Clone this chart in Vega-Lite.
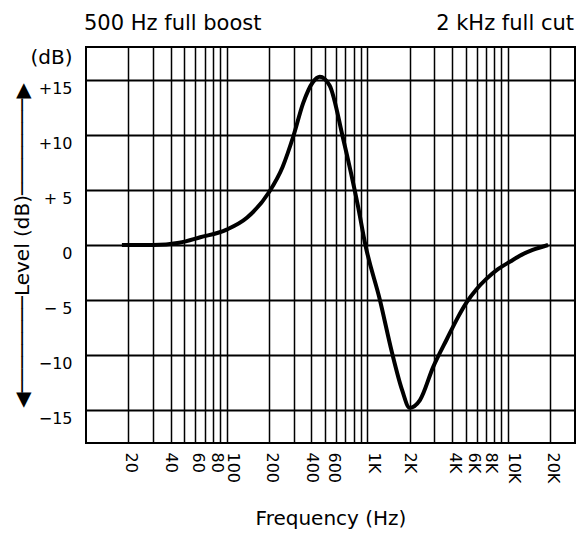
{
  "$schema": "https://vega.github.io/schema/vega-lite/v6.json",
  "width": 489,
  "height": 396,
  "autosize": {"type": "none"},
  "padding": {"left": 86, "top": 47, "right": 1, "bottom": 90},
  "background": "white",
  "config": {"view": {"stroke": "black", "strokeWidth": 2}, "font": "DejaVu Sans"},
  "layer": [
    {
      "data": {"values": [
        {"freq": 18, "db": 0}, {"freq": 30, "db": 0}, {"freq": 46, "db": 0.2}, {"freq": 65, "db": 0.7},
        {"freq": 100, "db": 1.4}, {"freq": 140, "db": 2.5}, {"freq": 200, "db": 4.8}, {"freq": 250, "db": 7.1},
        {"freq": 300, "db": 10}, {"freq": 350, "db": 12.9}, {"freq": 410, "db": 14.8}, {"freq": 460, "db": 15.3},
        {"freq": 540, "db": 14.5}, {"freq": 670, "db": 9.8}, {"freq": 860, "db": 3.5}, {"freq": 970, "db": 0},
        {"freq": 1230, "db": -5}, {"freq": 1500, "db": -9.8}, {"freq": 1770, "db": -13.2}, {"freq": 2000, "db": -14.8},
        {"freq": 2370, "db": -14.1}, {"freq": 2940, "db": -11.1}, {"freq": 3700, "db": -8.5}, {"freq": 4400, "db": -6.6},
        {"freq": 5100, "db": -5.2}, {"freq": 6000, "db": -4.0}, {"freq": 7000, "db": -3.1}, {"freq": 8500, "db": -2.2},
        {"freq": 10400, "db": -1.5}, {"freq": 12500, "db": -0.9}, {"freq": 15000, "db": -0.45}, {"freq": 19300, "db": 0}
      ]},
      "mark": {"type": "line", "interpolate": "monotone", "color": "black", "strokeWidth": 4},
      "encoding": {
        "x": {
          "field": "freq", "type": "quantitative",
          "scale": {"type": "log", "domain": [10, 30000], "nice": false},
          "axis": {
            "values": [20, 30, 40, 50, 60, 70, 80, 90, 100, 200, 300, 400, 500, 600, 700, 800, 900, 1000, 2000, 3000, 4000, 5000, 6000, 7000, 8000, 9000, 10000, 20000],
            "labelExpr": "indexof([20,40,60,80,100,200,400,600,1000,2000,4000,6000,8000,10000,20000], datum.value) >= 0 ? (datum.value >= 1000 ? (datum.value / 1000) + 'K' : '' + datum.value) : ''",
            "labelAngle": 90, "labelAlign": "left", "labelBaseline": "middle",
            "labelFont": "DejaVu Sans", "labelFontSize": 16, "labelColor": "black", "labelPadding": 9,
            "labelOffset": {"condition": [
              {"test": "datum.value == 100 || datum.value == 1000 || datum.value == 10000", "value": 6},
              {"test": "datum.value == 200 || datum.value == 80 || datum.value == 4000", "value": 3},
              {"test": "datum.value == 20 || datum.value == 60 || datum.value == 20000", "value": 2},
              {"test": "datum.value == 600 || datum.value == 6000", "value": -3},
              {"test": "datum.value == 8000", "value": -4}
            ], "value": 0},
            "labelOverlap": false, "labelFlush": false, "labelBound": false,
            "ticks": false, "domain": false,
            "grid": true, "gridColor": "black", "gridWidth": 1.5, "gridOpacity": 1,
            "title": "Frequency (Hz)", "titleFont": "DejaVu Sans", "titleFontSize": 20, "titleFontWeight": "normal", "titleColor": "black", "titlePadding": 26
          }
        },
        "y": {
          "field": "db", "type": "quantitative",
          "scale": {"domain": [-18, 18], "nice": false, "zero": false},
          "axis": {
            "values": [-15, -10, -5, 0, 5, 10, 15, 17.8],
            "labelExpr": "datum.value > 16 ? '(dB)' : datum.value == 0 ? '0' : datum.value == 5 ? '+ 5' : datum.value == -5 ? '− 5' : datum.value > 0 ? '+' + datum.value : '−' + abs(datum.value)",
            "labelFont": "DejaVu Sans",
            "labelFontSize": {"condition": {"test": "datum.value > 16", "value": 20}, "value": 16},
            "labelColor": "black", "labelPadding": 14, "labelOffset": 8,
            "labelOverlap": false, "labelFlush": false, "labelBound": false,
            "ticks": false, "domain": false,
            "grid": true, "gridColor": "black", "gridWidth": 2,
            "gridOpacity": {"condition": {"test": "datum.value > 16", "value": 0}, "value": 1},
            "title": "◀────────Level (dB)────────▶",
            "titleFont": "DejaVu Sans", "titleFontSize": 20, "titleFontWeight": "normal", "titleColor": "black", "titlePadding": -3
          }
        }
      }
    },
    {
      "data": {"values": [{"label": "500 Hz full boost"}]},
      "mark": {"type": "text", "align": "left", "baseline": "alphabetic", "dy": -17, "dx": -2, "fontSize": 21, "font": "DejaVu Sans", "color": "black"},
      "encoding": {"x": {"datum": 10}, "y": {"datum": 18}, "text": {"field": "label"}}
    },
    {
      "data": {"values": [{"label": "2 kHz full cut"}]},
      "mark": {"type": "text", "align": "right", "baseline": "alphabetic", "dy": -17, "dx": -1, "fontSize": 21, "font": "DejaVu Sans", "color": "black"},
      "encoding": {"x": {"datum": 30000}, "y": {"datum": 18}, "text": {"field": "label"}}
    }
  ]
}
